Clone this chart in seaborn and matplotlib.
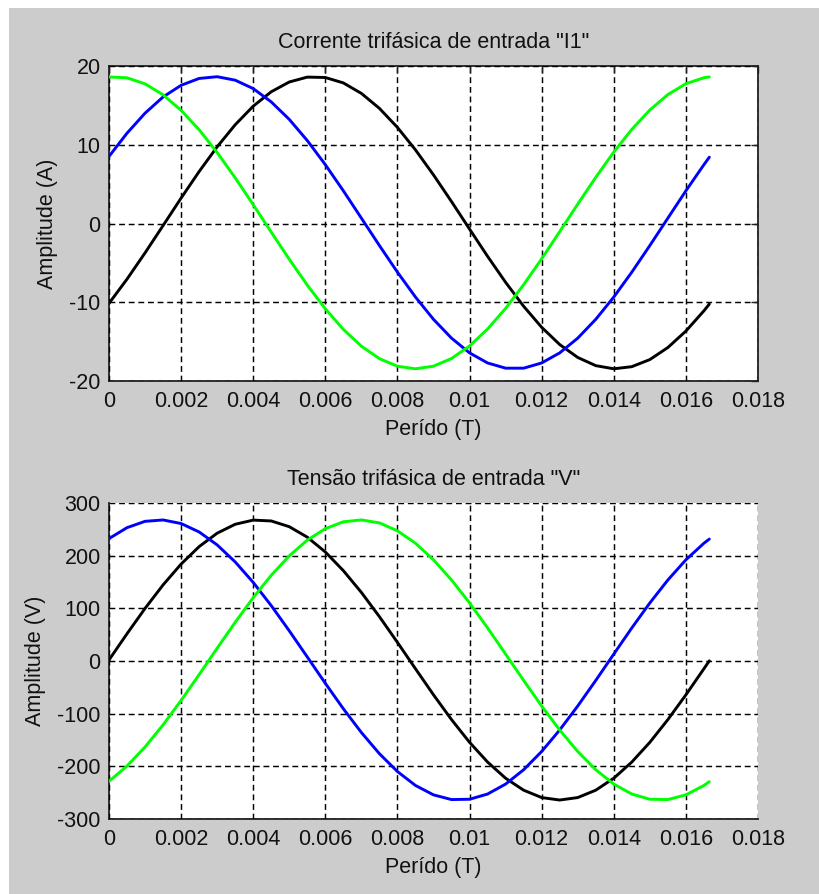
import numpy as np
import pandas as pd
import matplotlib
matplotlib.use("Agg")
import matplotlib.pyplot as plt
from matplotlib.patches import Rectangle
import seaborn as sns

# ---------------- data ----------------
t = [0.0, 0.0005, 0.001, 0.0015, 0.002, 0.0025, 0.003, 0.0035, 0.004, 0.0045,
     0.005, 0.0055, 0.006, 0.0065, 0.007, 0.0075, 0.008, 0.0085, 0.009, 0.0095,
     0.01, 0.0105, 0.011, 0.0115, 0.012, 0.0125, 0.013, 0.0135, 0.014, 0.0145,
     0.015, 0.0155, 0.016, 0.0165, 0.01665]

# Current "I1" (A)
i_black = [-10.14, -7.06, -3.73, -0.26, 3.23, 6.60, 9.74, 12.54, 14.90, 16.73,
           17.97, 18.59, 18.54, 17.85, 16.52, 14.62, 12.20, 9.35, 6.17, 2.78,
           -0.71, -4.17, -7.47, -10.51, -13.18, -15.37, -17.01, -18.05, -18.45, -18.18,
           -17.28, -15.75, -13.66, -11.09, -10.23]
i_blue = [8.52, 11.47, 14.01, 16.07, 17.55, 18.42, 18.64, 18.20, 17.13, 15.44,
          13.22, 10.53, 7.47, 4.15, 0.68, -2.80, -6.18, -9.34, -12.17, -14.56,
          -16.43, -17.71, -18.37, -18.37, -17.71, -16.43, -14.56, -12.17, -9.34, -6.18,
          -2.80, 0.68, 4.15, 7.47, 8.42]
i_green = [18.61, 18.50, 17.73, 16.34, 14.37, 11.90, 9.01, 5.80, 2.39, -1.10,
           -4.54, -7.83, -10.83, -13.45, -15.58, -17.16, -18.13, -18.45, -18.12, -17.14,
           -15.55, -13.40, -10.78, -7.77, -4.48, -1.03, 2.46, 5.86, 9.07, 11.95,
           14.41, 16.37, 17.75, 18.51, 18.61]

# Voltage "V" (V)
v_black = [2.0, 51.8, 99.9, 144.5, 184.1, 217.2, 242.7, 259.6, 267.5, 265.9,
           255.0, 235.1, 207.0, 171.5, 130.2, 84.2, 35.3, -14.7, -64.2, -111.3,
           -154.4, -191.9, -222.6, -245.3, -259.3, -264.0, -259.3, -245.3, -222.6, -191.9,
           -154.4, -111.3, -64.2, -14.7, 0.3]
v_blue = [232.4, 253.2, 265.2, 267.8, 261.0, 245.0, 220.4, 188.1, 149.2, 105.1,
          57.3, 7.6, -42.4, -90.7, -135.8, -176.0, -209.9, -236.3, -254.2, -263.1,
          -262.5, -252.6, -233.7, -206.5, -171.8, -131.0, -85.5, -36.9, 13.1, 62.8,
          110.2, 153.8, 192.1, 223.6, 231.5]
v_green = [-228.4, -199.4, -163.2, -121.2, -74.9, -25.8, 24.3, 73.5, 120.3, 162.8,
           199.7, 229.5, 251.3, 264.3, 267.9, 262.2, 247.2, 223.6, 192.1, 153.8,
           110.2, 62.8, 13.1, -36.9, -85.5, -131.0, -171.8, -206.5, -233.7, -252.6,
           -262.5, -263.1, -254.2, -236.3, -229.2]

phases = ["fase a", "fase b", "fase c"]
colors = ["#000000", "#0000FF", "#00FF00"]

x_ticks = [0, 0.002, 0.004, 0.006, 0.008, 0.01, 0.012, 0.014, 0.016, 0.018]
x_ticklabels = ["0", "0.002", "0.004", "0.006", "0.008", "0.01", "0.012", "0.014", "0.016", "0.018"]
yi_ticks = [-20, -10, 0, 10, 20]
yv_ticks = [-300, -200, -100, 0, 100, 200, 300]

titles = ['Corrente trifásica de entrada "I1"', 'Tensão trifásica de entrada "V"']
ylabels = ["Amplitude (A)", "Amplitude (V)"]
xlabel = "Perído (T)"

# ---------------- build long tables ----------------
def long_df(series):
    frames = []
    for name, vals in zip(phases, series):
        frames.append(pd.DataFrame({"t": t, "y": vals, "fase": name}))
    return pd.concat(frames, ignore_index=True)

df_i = long_df([i_black, i_blue, i_green])
df_v = long_df([v_black, v_blue, v_green])

# ---------------- style ----------------
sns.set_style("white")
plt.rcParams["font.family"] = ["Liberation Sans", "DejaVu Sans"]
plt.rcParams["font.size"] = 15.5

W, H = 819, 894
fig = plt.figure(figsize=(W / 100, H / 100), dpi=100, facecolor="white")
fig.patches.append(Rectangle((9 / W, 0), 1 - 9 / W, 1 - 8 / H,
                             transform=fig.transFigure, facecolor="#CCCCCC",
                             edgecolor="none", zorder=-10))

ax1 = fig.add_axes([109 / W, 1 - 381 / H, (758 - 109) / W, (381 - 66) / H])
ax2 = fig.add_axes([109 / W, 1 - 819 / H, (758 - 109) / W, (819 - 503) / H])

palette = dict(zip(phases, colors))
for ax, df, yt, ylim, title, ylab, box in [
        (ax1, df_i, yi_ticks, (-20, 20), titles[0], ylabels[0], True),
        (ax2, df_v, yv_ticks, (-300, 300), titles[1], ylabels[1], False)]:
    ax.set_facecolor("white")
    sns.lineplot(data=df, x="t", y="y", hue="fase", palette=palette,
                 estimator=None, sort=False, linewidth=2.1, legend=False, ax=ax,
                 zorder=3)
    ax.set_xlim(0, 0.018)
    ax.set_ylim(*ylim)
    ax.set_xticks(x_ticks)
    ax.set_xticklabels(x_ticklabels)
    ax.set_yticks(yt)
    ax.set_yticklabels([str(v) for v in yt])
    ax.grid(True, color="black", linestyle=(0, (4, 2.6)), linewidth=1.05, zorder=1)
    ax.set_axisbelow(False)
    ax.tick_params(direction="in", length=5, width=1, color="#222222",
                   labelsize=15.5, labelcolor="#111111", pad=6,
                   top=box, right=box)
    ax.tick_params(axis="x", pad=7)
    for side in ["left", "bottom"]:
        ax.spines[side].set_color("#222222")
        ax.spines[side].set_linewidth(1.3)
        ax.spines[side].set_visible(True)
    for side in ["top", "right"]:
        ax.spines[side].set_visible(box)
        ax.spines[side].set_color("#222222")
        ax.spines[side].set_linewidth(1.3)
    ax.set_title(title, fontsize=15.5, color="#111111", pad=13)
    ax.set_xlabel(xlabel, fontsize=15.5, color="#111111", labelpad=5)
    ax.set_ylabel(ylab, fontsize=15.5, color="#111111", labelpad=8)

fig.savefig("out.png", dpi=100, facecolor=fig.get_facecolor())
